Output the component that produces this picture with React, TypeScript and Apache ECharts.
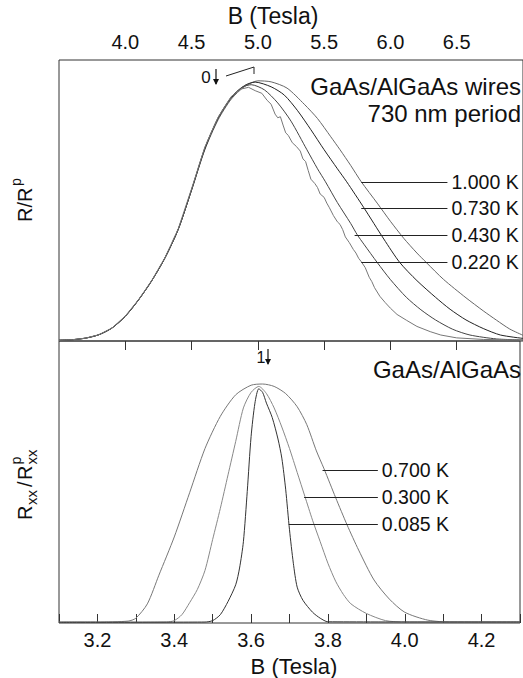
import React, { useEffect, useRef } from "react";
import * as echarts from "echarts";

const FONT = "'Liberation Sans', Arial, Helvetica, sans-serif";

// Top panel (B in Tesla, R/R^p)
const topTicks = [3.5, 7.0];
const t1000: number[][] = [
  [3.5, 0.003], [3.6, 0.005], [3.7, 0.011], [3.8, 0.024], [3.9, 0.05], [4.0, 0.095],
  [4.1, 0.158], [4.2, 0.232], [4.3, 0.32], [4.4, 0.43], [4.5, 0.58], [4.6, 0.735],
  [4.7, 0.85], [4.8, 0.93], [4.9, 0.978], [5.0, 1.0], [5.1, 0.996], [5.22, 0.972],
  [5.35, 0.91], [5.45, 0.855], [5.55, 0.785], [5.62, 0.735], [5.7, 0.675], [5.78, 0.612],
  [5.9, 0.53], [6.0, 0.46], [6.1, 0.395], [6.2, 0.338], [6.27, 0.302], [6.4, 0.237],
  [6.57, 0.166], [6.7, 0.116], [6.8, 0.08], [6.9, 0.046], [7.0, 0.022],
];
const t730: number[][] = [
  [3.5, 0.003], [3.6, 0.005], [3.7, 0.011], [3.8, 0.024], [3.9, 0.05], [4.0, 0.095],
  [4.1, 0.158], [4.2, 0.232], [4.3, 0.32], [4.4, 0.43], [4.5, 0.58], [4.6, 0.738],
  [4.7, 0.855], [4.8, 0.935], [4.9, 0.982], [4.98, 0.995], [5.1, 0.977], [5.2, 0.945],
  [5.3, 0.885], [5.4, 0.812], [5.5, 0.735], [5.6, 0.662], [5.67, 0.612], [5.8, 0.512],
  [5.95, 0.392], [6.07, 0.302], [6.2, 0.232], [6.34, 0.168], [6.45, 0.122], [6.57, 0.081],
  [6.7, 0.048], [6.83, 0.023], [7.0, 0.01],
];
const t430: number[][] = [
  [3.5, 0.003], [3.6, 0.005], [3.7, 0.011], [3.8, 0.024], [3.9, 0.05], [4.0, 0.095],
  [4.1, 0.158], [4.2, 0.232], [4.3, 0.32], [4.4, 0.43], [4.5, 0.582], [4.6, 0.742],
  [4.7, 0.858], [4.8, 0.938], [4.88, 0.975], [4.95, 0.985], [5.05, 0.965], [5.15, 0.915],
  [5.25, 0.845], [5.37, 0.735], [5.45, 0.662], [5.51, 0.612], [5.6, 0.532], [5.7, 0.452],
  [5.75, 0.408], [5.8, 0.372], [5.9, 0.302], [6.0, 0.236], [6.12, 0.168], [6.23, 0.12],
  [6.34, 0.081], [6.47, 0.045], [6.6, 0.023], [6.8, 0.008], [7.0, 0.004],
];
const t220: number[][] = [
  [3.5, 0.003], [3.6, 0.005], [3.7, 0.011], [3.8, 0.024], [3.9, 0.05], [4.0, 0.096],
  [4.1, 0.159], [4.2, 0.233], [4.3, 0.321], [4.4, 0.432], [4.5, 0.585], [4.6, 0.745],
  [4.7, 0.86], [4.8, 0.94], [4.87, 0.968], [4.93, 0.975], [4.98, 0.962], [5.03, 0.952],
  [5.07, 0.925], [5.1, 0.91], [5.13, 0.872], [5.15, 0.858], [5.17, 0.862], [5.19, 0.83],
  [5.21, 0.8], [5.23, 0.79], [5.26, 0.762], [5.29, 0.748], [5.32, 0.73], [5.34, 0.7],
  [5.36, 0.69], [5.38, 0.655], [5.4, 0.622], [5.43, 0.605], [5.45, 0.59], [5.47, 0.565],
  [5.5, 0.552], [5.52, 0.53], [5.54, 0.512], [5.57, 0.482], [5.6, 0.458], [5.62, 0.448],
  [5.64, 0.428], [5.66, 0.4], [5.69, 0.378], [5.72, 0.352], [5.74, 0.338], [5.76, 0.318],
  [5.78, 0.305], [5.81, 0.282], [5.84, 0.245], [5.86, 0.228], [5.88, 0.205], [5.92, 0.172],
  [5.96, 0.148], [6.0, 0.126], [6.05, 0.102], [6.12, 0.08], [6.2, 0.056], [6.3, 0.036],
  [6.38, 0.023], [6.5, 0.012], [6.7, 0.006], [7.0, 0.004],
];
const topLabels = ["1.000 K", "0.730 K", "0.430 K", "0.220 K"];
const topLeaderStart = [5.78, 5.78, 5.73, 5.78];
const topLeaderLevel = [0.612, 0.512, 0.408, 0.304];
const topLeaderEnd = 6.43;

// Bottom panel (B in Tesla, Rxx/Rxx^p)
const bottomTicks = [3.1, 4.3];
const b700: number[][] = [
  [3.1, 0.004], [3.2, 0.004], [3.28, 0.008], [3.3, 0.02], [3.33, 0.08], [3.36, 0.2],
  [3.4, 0.36], [3.44, 0.545], [3.48, 0.73], [3.52, 0.865], [3.56, 0.955], [3.6, 0.995],
  [3.63, 1.0], [3.66, 0.99], [3.69, 0.96], [3.72, 0.905], [3.745, 0.83], [3.77, 0.72],
  [3.79, 0.645], [3.82, 0.525], [3.85, 0.41], [3.88, 0.305], [3.92, 0.18], [3.96, 0.1],
  [4.0, 0.045], [4.06, 0.012], [4.12, 0.004], [4.3, 0.004],
];
const b300: number[][] = [
  [3.1, 0.003], [3.38, 0.004], [3.4, 0.01], [3.42, 0.035], [3.44, 0.085], [3.46, 0.14],
  [3.48, 0.22], [3.5, 0.35], [3.52, 0.48], [3.54, 0.62], [3.56, 0.76], [3.58, 0.9],
  [3.6, 0.965], [3.62, 0.99], [3.64, 0.96], [3.66, 0.9], [3.68, 0.82], [3.7, 0.73],
  [3.72, 0.63], [3.74, 0.53], [3.76, 0.43], [3.78, 0.34], [3.8, 0.25], [3.82, 0.175],
  [3.84, 0.12], [3.86, 0.08], [3.9, 0.04], [3.95, 0.01], [4.0, 0.004], [4.3, 0.004],
];
const b085: number[][] = [
  [3.1, 0.003], [3.48, 0.004], [3.5, 0.01], [3.52, 0.035], [3.54, 0.09], [3.56, 0.16],
  [3.57, 0.23], [3.58, 0.34], [3.59, 0.55], [3.6, 0.78], [3.61, 0.92], [3.62, 0.98],
  [3.63, 0.965], [3.64, 0.92], [3.655, 0.86], [3.67, 0.77], [3.68, 0.69], [3.69, 0.56],
  [3.7, 0.39], [3.71, 0.25], [3.72, 0.15], [3.735, 0.095], [3.76, 0.045], [3.78, 0.02],
  [3.8, 0.005], [4.3, 0.004],
];
const bottomLabels = ["0.700 K", "0.300 K", "0.085 K"];
const bottomLeaderStart = [3.786, 3.738, 3.698];
const bottomLeaderLevel = [0.64, 0.527, 0.414];
const bottomLeaderEnd = 3.93;

function leader(name: string, s: number, e: number, v: number) {
  return {
    silent: true,
    symbol: ["none", "none"],
    lineStyle: { color: "#222", width: 1, type: "solid" },
    label: {
      show: true,
      position: "end",
      formatter: name,
      color: "#111",
      fontSize: 19.5,
      fontFamily: FONT,
      distance: 4,
    },
    emphasis: { disabled: true },
    data: [[{ coord: [s, v] }, { coord: [e, v] }]],
  };
}

function lineSeries(data: number[][], color: string, grid: number, smooth: number | boolean, ml: any) {
  return {
    type: "line",
    xAxisIndex: grid,
    yAxisIndex: grid,
    data,
    showSymbol: false,
    symbol: "none",
    smooth,
    lineStyle: { color, width: 1 },
    emphasis: { disabled: true },
    markLine: ml,
    z: 3,
  };
}

export default function App() {
  const ref = useRef<HTMLDivElement>(null);
  useEffect(() => {
    if (!ref.current) return;
    const chart = echarts.init(ref.current, undefined, { renderer: "svg" });
    const textStyle = { fill: "#111", fontFamily: FONT };
    const topSeries = [t1000, t730, t430, t220];
    const topColors = ["#666", "#222", "#444", "#777"];
    const topSmooth: (number | boolean)[] = [0.25, 0.25, 0.25, false];
    const botSeries = [b700, b300, b085];
    const botColors = ["#777", "#888", "#333"];
    const series: any[] = [];
    topSeries.forEach((d, i) =>
      series.push(
        lineSeries(d, topColors[i], 0, topSmooth[i],
          leader(topLabels[i], topLeaderStart[i], topLeaderEnd, topLeaderLevel[i]))
      )
    );
    botSeries.forEach((d, i) =>
      series.push(
        lineSeries(d, botColors[i], 1, 0.25,
          leader(bottomLabels[i], bottomLeaderStart[i], bottomLeaderEnd, bottomLeaderLevel[i]))
      )
    );
    chart.setOption({
      animation: false,
      backgroundColor: "#fff",
      grid: [
        { left: 59, top: 60, width: 469, height: 281, show: true, borderColor: "#333", borderWidth: 1, backgroundColor: "transparent" },
        { left: 59, top: 341, width: 474, height: 282, show: true, borderColor: "#333", borderWidth: 1, backgroundColor: "transparent" },
      ],
      xAxis: [
        {
          type: "value", gridIndex: 0, position: "top", min: topTicks[0], max: topTicks[1], interval: 0.5,
          axisLine: { show: false },
          axisTick: { show: true, inside: true, length: 9, lineStyle: { color: "#333" } },
          splitLine: { show: false },
          axisLabel: {
            show: true, margin: 8, fontSize: 20, color: "#111", fontFamily: FONT,
            showMinLabel: false, showMaxLabel: false,
            formatter: (v: number) => v.toFixed(1),
          },
        },
        {
          type: "value", gridIndex: 1, position: "bottom", min: bottomTicks[0], max: bottomTicks[1], interval: 0.1,
          axisLine: { show: false },
          axisTick: { show: true, inside: true, length: 9, lineStyle: { color: "#333" } },
          splitLine: { show: false },
          axisLabel: {
            show: true, margin: 7, fontSize: 20, color: "#111", fontFamily: FONT,
            formatter: (v: number) => (Math.round(v * 10) % 2 === 0 ? v.toFixed(1) : ""),
          },
        },
      ],
      yAxis: [
        { type: "value", gridIndex: 0, min: 0, max: 1.08, show: false },
        { type: "value", gridIndex: 1, min: 0, max: 1.18, show: false },
      ],
      series,
      graphic: [
        { type: "text", x: 273, y: 16, style: { ...textStyle, text: "B (Tesla)", fontSize: 23, textAlign: "center", textVerticalAlign: "middle" } },
        { type: "text", x: 294, y: 666, style: { ...textStyle, text: "B (Tesla)", fontSize: 22, textAlign: "center", textVerticalAlign: "middle" } },
        { type: "text", x: 521, y: 86, style: { ...textStyle, text: "GaAs/AlGaAs wires", fontSize: 24, textAlign: "right", textVerticalAlign: "middle" } },
        { type: "text", x: 521, y: 113, style: { ...textStyle, text: "730 nm period", fontSize: 24, textAlign: "right", textVerticalAlign: "middle" } },
        { type: "text", x: 521, y: 369, style: { ...textStyle, text: "GaAs/AlGaAs", fontSize: 24, textAlign: "right", textVerticalAlign: "middle" } },
        { type: "text", x: 206, y: 77, style: { ...textStyle, text: "0", fontSize: 17, textAlign: "center", textVerticalAlign: "middle" } },
        { type: "line", shape: { x1: 216, y1: 69, x2: 216, y2: 84 }, style: { stroke: "#111", lineWidth: 1.2 } },
        { type: "polygon", shape: { points: [[213, 79], [219, 79], [216, 85]] }, style: { fill: "#111" } },
        { type: "polyline", shape: { points: [[226, 76], [254, 67], [254, 74]] }, style: { stroke: "#222", lineWidth: 1, fill: null } },
        { type: "text", x: 261, y: 357, style: { ...textStyle, text: "1", fontSize: 16, textAlign: "center", textVerticalAlign: "middle" } },
        { type: "line", shape: { x1: 268, y1: 349, x2: 268, y2: 364 }, style: { stroke: "#111", lineWidth: 1.2 } },
        { type: "polygon", shape: { points: [[265, 359], [271, 359], [268, 365]] }, style: { fill: "#111" } },
        {
          type: "group", x: 25, y: 200, rotation: Math.PI / 2,
          children: [
            { type: "text", x: -22, y: 0, style: { ...textStyle, text: "R/R", fontSize: 20, textAlign: "left", textVerticalAlign: "middle" } },
            { type: "text", x: 14, y: -9, style: { ...textStyle, text: "p", fontSize: 14, textAlign: "left", textVerticalAlign: "middle" } },
          ],
        },
        {
          type: "group", x: 25, y: 484, rotation: Math.PI / 2,
          children: [
            { type: "text", x: -36, y: 0, style: { ...textStyle, text: "R", fontSize: 20, textAlign: "left", textVerticalAlign: "middle" } },
            { type: "text", x: -21, y: 6, style: { ...textStyle, text: "xx", fontSize: 15, textAlign: "left", textVerticalAlign: "middle" } },
            { type: "text", x: -3, y: 0, style: { ...textStyle, text: "/", fontSize: 20, textAlign: "left", textVerticalAlign: "middle" } },
            { type: "text", x: 4, y: 0, style: { ...textStyle, text: "R", fontSize: 20, textAlign: "left", textVerticalAlign: "middle" } },
            { type: "text", x: 19.5, y: -9, style: { ...textStyle, text: "p", fontSize: 14, textAlign: "left", textVerticalAlign: "middle" } },
            { type: "text", x: 19.5, y: 6, style: { ...textStyle, text: "xx", fontSize: 15, textAlign: "left", textVerticalAlign: "middle" } },
          ],
        },
      ],
    });
    return () => chart.dispose();
  }, []);
  return (
    <div
      ref={ref}
      style={{ position: "absolute", left: 0, top: 0, width: 523, height: 678, background: "#fff" }}
    />
  );
}
